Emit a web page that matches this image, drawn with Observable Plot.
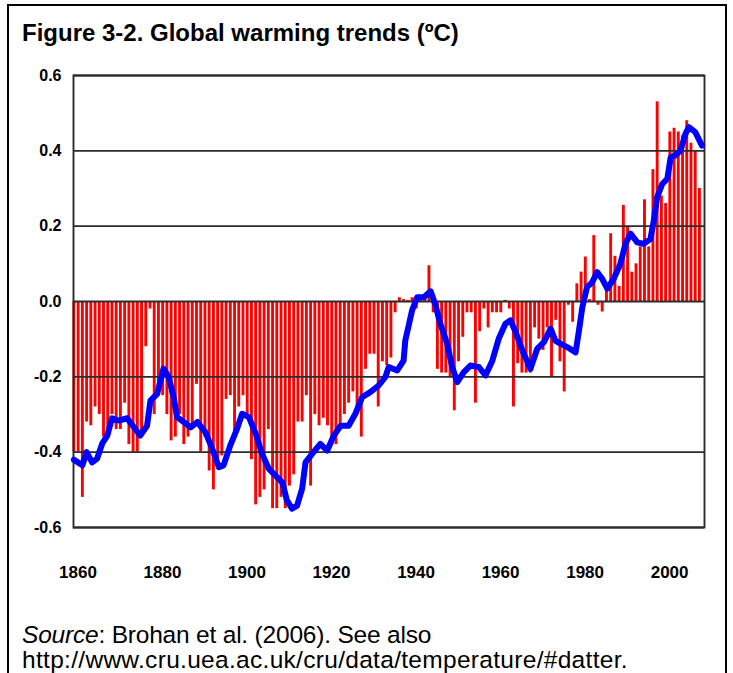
<!DOCTYPE html>
<html><head><meta charset="utf-8">
<script src="https://cdn.jsdelivr.net/npm/d3@7"></script>
<script src="https://cdn.jsdelivr.net/npm/@observablehq/plot@0.6"></script>
<style>
html,body{margin:0;padding:0;background:#fff;width:733px;height:673px;overflow:hidden;}
#wrap{position:relative;width:733px;height:673px;}
#box{position:absolute;left:7px;top:4px;width:720px;height:700px;border:2px solid #000;border-bottom:none;box-sizing:border-box;}
#title{position:absolute;left:22px;top:19px;font:bold 24px/28px "Liberation Sans",Arial,sans-serif;color:#000;white-space:nowrap;}
#chart{position:absolute;left:0;top:60px;}
#caption{position:absolute;left:22px;top:622px;font:24.5px/25px "Liberation Sans",Arial,sans-serif;color:#000;white-space:nowrap;}
#l1{letter-spacing:-0.2px;}
#l2{letter-spacing:0.3px;}
</style></head>
<body><div id="wrap"><div id="box"></div><div id="title"></div><div id="chart"></div><div id="caption"></div></div>
<script>
const titleText = "Figure 3-2. Global warming trends (ºC)";
const captionSource = "Source";
const captionRest = ": Brohan et al. (2006). See also";
const captionUrl = "http://www.cru.uea.ac.uk/cru/data/temperature/#datter.";

const startYear = 1860;
const anomalies = [
 -0.40,-0.40,-0.52,-0.32,-0.33,-0.28,-0.30,-0.36,-0.34,-0.30,
 -0.34,-0.34,-0.27,-0.38,-0.40,-0.40,-0.36,-0.12,-0.02,-0.30,
 -0.25,-0.25,-0.30,-0.37,-0.36,-0.30,-0.38,-0.36,-0.33,-0.22,
 -0.40,-0.36,-0.45,-0.50,-0.42,-0.41,-0.26,-0.25,-0.36,-0.28,
 -0.25,-0.30,-0.42,-0.54,-0.52,-0.50,-0.34,-0.55,-0.55,-0.52,
 -0.55,-0.49,-0.46,-0.32,-0.32,-0.25,-0.49,-0.30,-0.33,-0.31,
 -0.33,-0.36,-0.38,-0.34,-0.30,-0.27,-0.24,-0.30,-0.36,-0.18,
 -0.14,-0.14,-0.28,-0.16,-0.17,-0.15,-0.03,0.01,0.005,0.003,
 0.01,-0.02,0.003,0.01,0.095,-0.03,-0.18,-0.19,-0.19,-0.20,
 -0.29,-0.16,-0.095,-0.03,-0.03,-0.27,-0.08,-0.02,-0.07,-0.03,
 -0.03,-0.03,0.003,-0.02,-0.28,-0.165,-0.19,-0.19,-0.19,-0.07,
 -0.10,-0.13,-0.07,-0.20,-0.05,-0.16,-0.24,-0.01,-0.055,0.047,
 0.078,0.118,0.005,0.175,-0.01,-0.028,0.03,0.18,0.12,0.04,
 0.255,0.20,0.078,0.10,0.145,0.27,0.145,0.35,0.53,0.28,
 0.26,0.45,0.46,0.45,0.44,0.48,0.42,0.40,0.30
];

const smoothYears = [
 1860,1862,1863,1864.3,1865.5,1866.7,1867.9,1869,1870.6,1872.6,
 1874.2,1875.7,1877.3,1878.1,1879.7,1881.2,1882.4,1883.6,1884.4,1886,
 1887.6,1889.2,1891.1,1892.7,1894.3,1895.4,1897,1898.6,1899.8,1901.4,
 1903,1904.5,1906.1,1907.7,1909.3,1910.4,1911.6,1912.8,1914,1914.8,
 1916.4,1918.3,1919.9,1921.5,1923.1,1925,1926.6,1928.2,1930.2,1932.1,
 1933.7,1934.5,1936.5,1938,1938.4,1939.2,1940,1941.2,1942.8,1944.4,
 1945.5,1946.7,1948.3,1949.5,1950.7,1952.2,1953.8,1955.8,1957.4,1959,
 1960.5,1962.1,1963.3,1964.5,1966.1,1968,1969.6,1971.2,1972.8,1973.9,
 1975.1,1976.7,1978.7,1979.5,1980.3,1981.4,1982.6,1983.8,1985,1986.2,
 1987.7,1989.3,1990.5,1991.7,1993.3,1994.8,1996.4,1997.2,1998,1999.2,
 2000.4,2001.2,2002.3,2003.5,2004.7,2005.5,2007,2008.6
];
const smoothValues = [
 -0.42,-0.435,-0.40,-0.427,-0.417,-0.377,-0.356,-0.31,-0.316,-0.31,
 -0.334,-0.356,-0.33,-0.263,-0.245,-0.178,-0.20,-0.254,-0.307,-0.32,
 -0.334,-0.32,-0.347,-0.39,-0.44,-0.435,-0.382,-0.338,-0.298,-0.307,
 -0.351,-0.404,-0.444,-0.462,-0.48,-0.528,-0.55,-0.542,-0.497,-0.427,
 -0.404,-0.378,-0.396,-0.356,-0.33,-0.33,-0.298,-0.254,-0.24,-0.223,
 -0.20,-0.174,-0.183,-0.157,-0.104,-0.064,-0.024,0.011,0.011,0.027,
 -0.008,-0.059,-0.112,-0.174,-0.214,-0.188,-0.17,-0.174,-0.196,-0.157,
 -0.099,-0.059,-0.05,-0.081,-0.13,-0.179,-0.126,-0.108,-0.072,-0.104,
 -0.112,-0.121,-0.135,-0.077,-0.015,0.038,0.051,0.078,0.06,0.034,
 0.06,0.10,0.153,0.18,0.157,0.153,0.166,0.215,0.277,0.312,
 0.326,0.383,0.388,0.40,0.445,0.463,0.45,0.414
];

const yTicks = [-0.6,-0.4,-0.2,0,0.2,0.4,0.6];
const xTicks = [1860,1880,1900,1920,1940,1960,1980,2000];
const xTickLabels = ["1860","1880","1900","1920","1940","1960","1980","2000"];
const xDomain = [1859.9, 2009.2];
const yDomain = [-0.6, 0.6];

const bars = anomalies.map((v,i)=>({year:startYear+i, value:v}));
const smooth = smoothYears.map((y,i)=>({year:y, value:smoothValues[i]}));

const chart = Plot.plot({
  width:733, height:530,
  marginTop:15, marginLeft:73, marginRight:29, marginBottom:63,
  x:{domain:xDomain, label:null},
  y:{domain:yDomain, label:null},
  style:{fontFamily:"'Liberation Sans', Arial, sans-serif", background:"transparent", color:"#000"},
  marks:[
    Plot.ruleX(bars,{x:"year", y1:0, y2:"value", stroke:"#ff0000", strokeWidth:2.9}),
    Plot.ruleY(yTicks,{stroke:"#2b2b2b", strokeWidth:1.9}),
    Plot.frame({stroke:"#2b2b2b", strokeWidth:1.9}),
    Plot.line(smooth,{x:"year", y:"value", stroke:"#0000ff", strokeWidth:6, strokeLinejoin:"round", strokeLinecap:"round"}),
    Plot.axisY(yTicks,{tickSize:0, tickPadding:12, label:null, tickFormat:d=>d.toFixed(1), fontSize:16, fontWeight:"bold"}),
    Plot.axisX(xTicks,{tickSize:0, tickPadding:38, dx:4, label:null, tickFormat:d=>xTickLabels[xTicks.indexOf(d)], fontSize:17, fontWeight:"bold"})
  ]
});
document.getElementById("chart").appendChild(chart);
document.getElementById("title").textContent = titleText;
const cap = document.getElementById("caption");
const l1 = document.createElement("span"); l1.id = "l1";
const em = document.createElement("i"); em.textContent = captionSource;
l1.appendChild(em);
l1.appendChild(document.createTextNode(captionRest));
cap.appendChild(l1);
cap.appendChild(document.createElement("br"));
const l2 = document.createElement("span"); l2.id = "l2";
l2.textContent = captionUrl;
cap.appendChild(l2);
</script></body></html>
